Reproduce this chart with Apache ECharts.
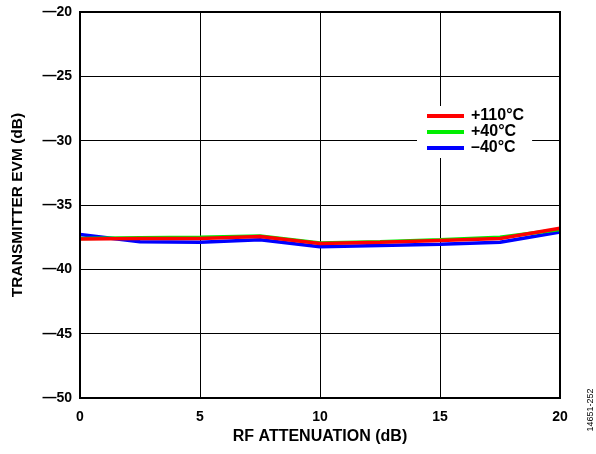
<!DOCTYPE html>
<html><head><meta charset="utf-8">
<script src="https://cdn.jsdelivr.net/npm/echarts@6/dist/echarts.min.js"></script>
<style>html,body{margin:0;padding:0;background:#fff}#c{width:596px;height:454px}</style>
</head><body><div id="c"></div>
<script>
const xValues = [0, 2.5, 5, 7.5, 10, 12.5, 15, 17.5, 20];
const red110 = [-37.65, -37.6, -37.6, -37.45, -38.0, -37.9, -37.75, -37.6, -36.8];
const green40 = [-37.6, -37.55, -37.5, -37.4, -37.95, -37.85, -37.7, -37.5, -36.9];
const blueM40 = [-37.3, -37.85, -37.9, -37.7, -38.25, -38.15, -38.05, -37.9, -37.1];
const seriesNames = ['+110°C', '+40°C', '–40°C'];
const xTitle = 'RF ATTENUATION (dB)';
const yTitle = 'TRANSMITTER EVM (dB)';

const font = 'Liberation Sans, Arial, sans-serif';
const chart = echarts.init(document.getElementById('c'));
function pairs(v){ return xValues.map((x,i)=>[x, v[i]]); }
chart.setOption({
  animation:false,
  grid:{left:80, right:36, top:12, bottom:56, containLabel:false, outerBoundsMode:'none'},
  xAxis:{type:'value', min:0, max:20, interval:5,
    name:xTitle, nameLocation:'middle', nameGap:28,
    nameTextStyle:{fontFamily:font, fontWeight:'bold', fontSize:16, color:'#000'},
    axisLine:{show:false}, axisTick:{show:false},
    axisLabel:{fontFamily:font, fontWeight:'bold', fontSize:14, color:'#000', margin:12},
    splitLine:{show:true, lineStyle:{color:'#000', width:1}}},
  yAxis:{type:'value', min:-50, max:-20, interval:5,
    name:yTitle, nameLocation:'middle', nameGap:54, nameRotate:90,
    nameTextStyle:{fontFamily:font, fontWeight:'bold', fontSize:15.5, color:'#000'},
    axisLine:{show:false}, axisTick:{show:false},
    axisLabel:{fontFamily:font, fontWeight:'bold', fontSize:14, color:'#000', margin:8,
      formatter:v=>String(v).replace('-','—')},
    splitLine:{show:true, lineStyle:{color:'#000', width:1}}},
  legend:{orient:'vertical', left:417, top:106, itemGap:0, itemWidth:37, itemHeight:4,
    icon:'rect', backgroundColor:'#fff', padding:[2,8,2,10],
    textStyle:{fontFamily:font, fontWeight:'bold', fontSize:16, lineHeight:16, color:'#000', padding:[0,0,0,2]},
    data:[seriesNames[0], seriesNames[1], seriesNames[2]]},
  graphic:[
    {type:'rect', shape:{x:80, y:12, width:480, height:386}, style:{fill:'none', stroke:'#000', lineWidth:2}, z:100},
    {type:'text', x:591, y:410, rotation:Math.PI/2, style:{text:'14651-252', font:'9px '+font, fill:'#000', align:'center', verticalAlign:'middle'}}
  ],
  series:[
    {name:seriesNames[2], type:'line', data:pairs(blueM40), symbol:'none', lineStyle:{color:'#0000ff', width:3.5}, itemStyle:{color:'#0000ff'}, z:2},
    {name:seriesNames[1], type:'line', data:pairs(green40), symbol:'none', lineStyle:{color:'#00ee00', width:3.5}, itemStyle:{color:'#00ee00'}, z:3},
    {name:seriesNames[0], type:'line', data:pairs(red110), symbol:'none', lineStyle:{color:'#ff0000', width:3.5}, itemStyle:{color:'#ff0000'}, z:4}
  ]
});
</script></body></html>
